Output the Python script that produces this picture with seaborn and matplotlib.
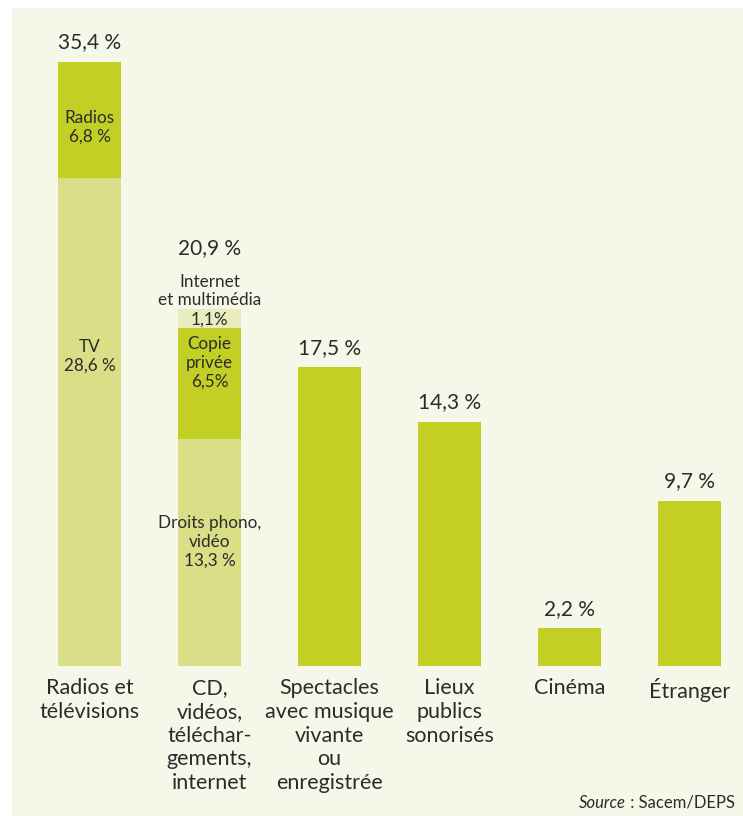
import seaborn as sns
import pandas as pd
import matplotlib.pyplot as plt
from matplotlib.patches import Rectangle

# --------------------- data ---------------------
categories = ["Radios et\ntélévisions", "CD,\nvidéos,\ntéléchar-\ngements,\ninternet",
              "Spectacles\navec musique\nvivante\nou\nenregistrée", "Lieux\npublics\nsonorisés",
              "Cinéma", "Étranger"]
totals = [35.4, 20.9, 17.5, 14.3, 2.2, 9.7]
total_labels = ["35,4 %", "20,9 %", "17,5 %", "14,3 %", "2,2 %", "9,7 %"]

# segments of the stacked bars (bottom -> top)
radios_tv = [28.6, 6.8]          # TV, Radios
cd_segments = [13.3, 6.5, 1.1]   # Droits phono/vidéo, Copie privée, Internet et multimédia

BRIGHT = "#c3cf25"
LIGHT = "#d9de87"
PALE = "#e9ecbd"
BG = "#f5f7e9"
TEXT = "#2b2b2b"

# cumulative layers, drawn from the tallest down so they stack visually
layer_top = totals
layer_mid = [radios_tv[0], cd_segments[0] + cd_segments[1], 0, 0, 0, 0]
layer_low = [0, cd_segments[0], 0, 0, 0, 0]
layers = [
    (layer_top, [BRIGHT, PALE, BRIGHT, BRIGHT, BRIGHT, BRIGHT]),
    (layer_mid, [LIGHT, BRIGHT, BRIGHT, BRIGHT, BRIGHT, BRIGHT]),
    (layer_low, [LIGHT, LIGHT, LIGHT, LIGHT, LIGHT, LIGHT]),
]

sns.set_style("white")
plt.rcParams["font.family"] = ["Lato", "DejaVu Sans"]

fig = plt.figure(figsize=(7.43, 8.16), dpi=100)
fig.patch.set_facecolor("white")
fig.patches.append(Rectangle((12 / 743, 0), 1, 1 - 8 / 816, transform=fig.transFigure,
                             facecolor=BG, edgecolor="none", zorder=-10))

ax = fig.add_axes([0, 150 / 816, 1, 626 / 816])
ax.set_facecolor("none")
ax.set_zorder(5)

for vals, cols in layers:
    df = pd.DataFrame({"cat": categories, "val": vals})
    sns.barplot(data=df, x="cat", y="val", hue="cat", order=categories, hue_order=categories,
                palette=cols, saturation=1, width=0.525, legend=False, ax=ax, linewidth=0)

ax.set_xlim(-0.746, 5.446)
ax.set_ylim(0, 626 / 17.06)

ax.set_xlabel("")
ax.set_ylabel("")
ax.set_yticks([])
ax.set_xticks(range(len(categories)))
ax.set_xticklabels(categories, fontsize=15.5, color=TEXT, linespacing=1.22)
ax.tick_params(axis="x", length=0, pad=9)
sns.despine(left=True, bottom=True)

# value labels above the bars
for i, (v, lab) in enumerate(zip(totals, total_labels)):
    if i == 1:
        continue
    ax.annotate(lab, (i, v), xytext=(0, 7), textcoords="offset points",
                ha="center", va="bottom", fontsize=15, color=TEXT)


def y_of(px):
    return (666 - px) / 17.06


inner = dict(ha="center", va="center", fontsize=12.3, color=TEXT, linespacing=1.2)
ax.text(1, y_of(248), total_labels[1], ha="center", va="center", fontsize=15, color=TEXT)
ax.text(1, y_of(291), "Internet\net multimédia", **inner)
ax.text(1, y_of(320), "1,1%", **inner)
ax.text(1, y_of(363), "Copie\nprivée\n6,5%", **inner)
ax.text(1, y_of(542), "Droits phono,\nvidéo\n13,3 %", **inner)
ax.text(0, y_of(127), "Radios\n6,8 %", **inner)
ax.text(0, y_of(356), "TV\n28,6 %", **inner)

# source line, right aligned: italic "Source" then the rest
src = fig.text(735 / 743, 1 - 803 / 816, " : Sacem/DEPS", ha="right", va="center",
               fontsize=12, color=TEXT)
renderer = fig.canvas.get_renderer()
bb = src.get_window_extent(renderer=renderer)
fig.text(bb.x0 / fig.bbox.width, 1 - 803 / 816, "Source", ha="right", va="center",
         fontsize=12, color=TEXT, style="italic")

plt.savefig("out.png", dpi=100, facecolor=fig.get_facecolor())
